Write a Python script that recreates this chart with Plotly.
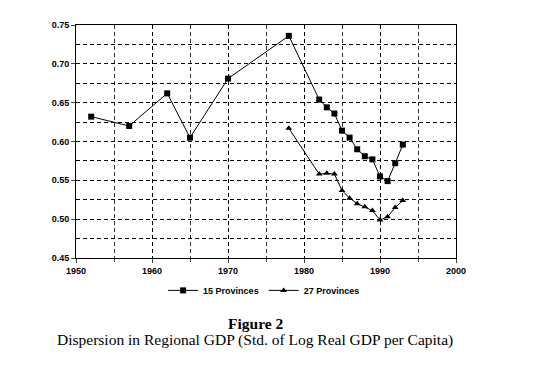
import plotly.graph_objects as go

years_15 = [1952, 1957, 1962, 1965, 1970, 1978, 1982, 1983, 1984, 1985, 1986,
            1987, 1988, 1989, 1990, 1991, 1992, 1993]
values_15 = [0.632, 0.620, 0.662, 0.605, 0.681, 0.736, 0.654, 0.644, 0.636, 0.614,
             0.605, 0.590, 0.581, 0.577, 0.555, 0.549, 0.572, 0.596]

years_27 = [1978, 1982, 1983, 1984, 1985, 1986, 1987, 1988, 1989, 1990, 1991, 1992, 1993]
values_27 = [0.617, 0.558, 0.559, 0.558, 0.537, 0.527, 0.520, 0.516, 0.511, 0.499,
             0.503, 0.515, 0.524]

x_ticks = [1950, 1960, 1970, 1980, 1990, 2000]
y_ticks = [0.45, 0.50, 0.55, 0.60, 0.65, 0.70, 0.75]

fig = go.Figure()
fig.add_trace(go.Scatter(x=years_15, y=values_15, mode="lines+markers", name="15 Provinces",
                         line=dict(color="black", width=1),
                         marker=dict(symbol="square", size=6, color="black")))
fig.add_trace(go.Scatter(x=years_27, y=values_27, mode="lines+markers", name="27 Provinces",
                         line=dict(color="black", width=1),
                         marker=dict(symbol="triangle-up", size=6, color="black")))

axis_font = dict(family="Liberation Sans, Arial", size=9, color="black", weight="bold")
grid_dash = "4px,3px"
fig.update_xaxes(range=[1950, 2000], tickvals=x_ticks, ticks="outside", ticklen=4,
                 tickfont=axis_font, showline=True, linecolor="black", linewidth=1, mirror=True,
                 showgrid=True, gridcolor="black", gridwidth=1, griddash=grid_dash,
                 minor=dict(dtick=5, tick0=1950, showgrid=True, gridcolor="#333333",
                            griddash=grid_dash, gridwidth=1, ticks="outside", ticklen=3),
                 zeroline=False)
fig.update_yaxes(range=[0.45, 0.75], tickvals=y_ticks, tickformat=".2f", ticks="outside",
                 ticklen=4, tickfont=axis_font, showline=True, linecolor="black", linewidth=1,
                 mirror=True, showgrid=True, gridcolor="black", gridwidth=1, griddash=grid_dash,
                 minor=dict(dtick=0.025, tick0=0.45, showgrid=True, gridcolor="black",
                            griddash=grid_dash, gridwidth=1),
                 zeroline=False)

serif = "Liberation Serif, Times New Roman"
fig.update_layout(
    width=546, height=369,
    margin=dict(l=68, r=98, t=15, b=119),
    paper_bgcolor="white", plot_bgcolor="white",
    showlegend=True,
    legend=dict(orientation="h", x=0.495, xanchor="center", y=-0.139, yanchor="middle",
                font=dict(family="Liberation Sans, Arial", size=9, color="black", weight="bold"),
                itemwidth=30, tracegroupgap=0, bgcolor="rgba(0,0,0,0)"),
    annotations=[
        dict(text="<b>Figure 2</b>", x=0.472, y=-0.281, xref="paper", yref="paper",
             showarrow=False, xanchor="center", yanchor="middle",
             font=dict(family=serif, size=15.5, color="black")),
        dict(text="Dispersion in Regional GDP (Std. of Log Real GDP per Capita)",
             x=0.470, y=-0.353, xref="paper", yref="paper", showarrow=False,
             xanchor="center", yanchor="middle",
             font=dict(family=serif, size=15.5, color="black")),
    ],
)

fig.write_html("out.html")
